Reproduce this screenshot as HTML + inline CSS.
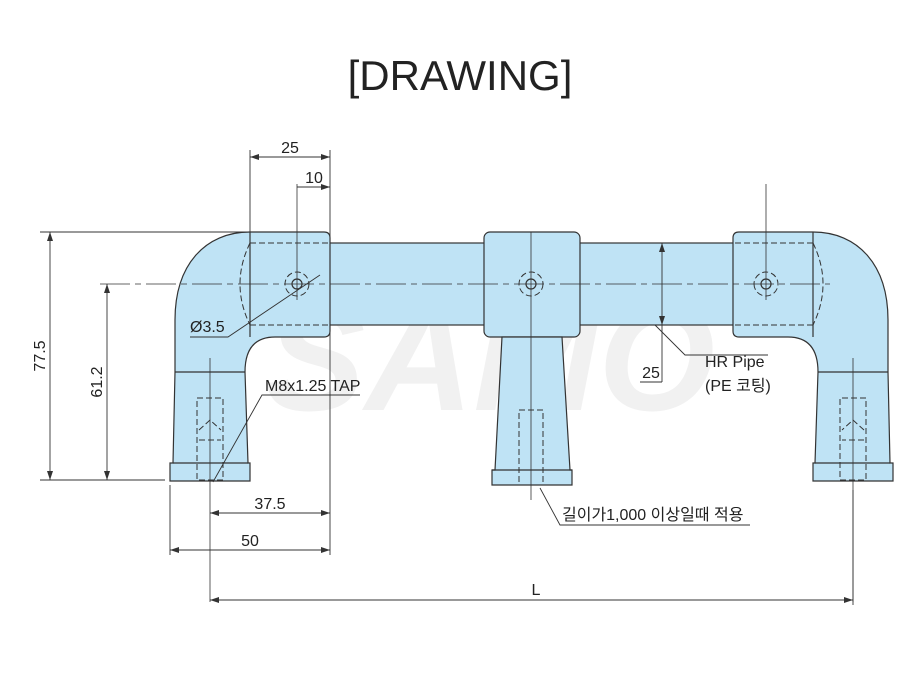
<!DOCTYPE html>
<html><head><meta charset="utf-8"><style>
html,body{margin:0;padding:0;background:#fff;}
svg{display:block;}
text{font-family:"Liberation Sans","Noto Sans CJK KR",sans-serif;fill:#222;}
</style></head><body>
<svg width="921" height="700" viewBox="0 0 921 700" xmlns="http://www.w3.org/2000/svg">
<text x="460" y="90" font-size="42" text-anchor="middle">[DRAWING]</text>
<text x="490" y="410" font-size="150" font-style="italic" font-weight="bold" text-anchor="middle" style="fill:#f1f1f1">SAMO</text>
<g stroke="#333" stroke-width="1.2" fill="#bfe3f5">
<rect x="320" y="243" width="425" height="82"/>
<g id="el">
<path d="M250 232 L324 232 Q330 232 330 238 L330 331 Q330 337 324 337 L275 337 Q245 337 245 372 L248 463 L250 463 L250 481 L170 481 L170 463 L173 463 L175 372 L175 320 C175 265 205 232 250 232 Z"/>
<line x1="175" y1="372" x2="245" y2="372"/>
<line x1="250" y1="232" x2="250" y2="337" />
<line x1="173" y1="463" x2="248" y2="463"/>
<g fill="none" stroke-dasharray="6,3" stroke-width="1">
<path d="M250 243 L330 243 M250 325 L330 325"/>
<path d="M250 243 Q230 284 250 325"/>
<circle cx="297" cy="284" r="12"/>
<rect x="197" y="398" width="26" height="82"/>
<path d="M199 430 L210 420 L221 430 M199 440 L221 440"/>
</g>
<circle cx="297" cy="284" r="5" fill="none"/>
<line x1="297" y1="184" x2="297" y2="300" stroke-width="0.8"/>
<line x1="210" y1="358" x2="210" y2="602" stroke-width="0.8"/>
</g>
<use href="#el" transform="translate(1063,0) scale(-1,1)"/>
<rect x="484" y="232" width="96" height="105" rx="6"/>
<path d="M502 337 L562 337 L570 470 L572 470 L572 485 L492 485 L492 470 L495 470 Z"/>
<line x1="492" y1="470" x2="572" y2="470"/>
<g fill="none" stroke-dasharray="6,3" stroke-width="1">
<circle cx="531" cy="284" r="12"/>
<rect x="519" y="410" width="24" height="75"/>
</g>
<circle cx="531" cy="284" r="5" fill="none"/>
<line x1="531" y1="232" x2="531" y2="500" stroke-width="0.8"/>
</g>
<line x1="100" y1="284" x2="830" y2="284" stroke="#333" stroke-width="0.8" stroke-dasharray="30,5,6,5"/>
<g stroke="#333" stroke-width="0.9" fill="none">
<line x1="40" y1="232" x2="250" y2="232"/>
<line x1="40" y1="480" x2="165" y2="480"/>
<line x1="50" y1="232" x2="50" y2="480"/>
<line x1="107" y1="284" x2="107" y2="480"/>
<line x1="250" y1="150" x2="250" y2="232"/>
<line x1="330" y1="150" x2="330" y2="555"/>
<line x1="250" y1="157" x2="330" y2="157"/>
<line x1="297" y1="187" x2="330" y2="187"/>
<line x1="170" y1="485" x2="170" y2="555"/>
<line x1="210" y1="513" x2="330" y2="513"/>
<line x1="170" y1="550" x2="330" y2="550"/>
<line x1="853" y1="490" x2="853" y2="605"/>
<line x1="210" y1="600" x2="853" y2="600"/>
<line x1="662" y1="243" x2="662" y2="382"/>
<line x1="640" y1="382" x2="662" y2="382"/>
<path d="M190 337 L228 337 L320 275"/>
<path d="M213 482 L262 395 L360 395"/>
<path d="M655 325 L685 355 L768 355"/>
<path d="M540 488 L560 525 L750 525"/>
</g>
<g fill="#333">
<path d="M50 232 l-3 9 h6z M50 480 l-3 -9 h6z M107 284 l-3 9 h6z M107 480 l-3 -9 h6z"/>
<path d="M250 157 l9 -3 v6z M330 157 l-9 -3 v6z M330 187 l-9 -3 v6z"/>
<path d="M210 513 l9 -3 v6z M330 513 l-9 -3 v6z M170 550 l9 -3 v6z M330 550 l-9 -3 v6z"/>
<path d="M210 600 l9 -3 v6z M853 600 l-9 -3 v6z M662 243 l-3 9 h6z M662 325 l-3 -9 h6z"/>
</g>
<g font-size="16">
<text x="290" y="153" text-anchor="middle">25</text>
<text x="314" y="183" text-anchor="middle">10</text>
<text x="190" y="332">Ø3.5</text>
<text x="265" y="391">M8x1.25 TAP</text>
<text x="270" y="509" text-anchor="middle">37.5</text>
<text x="250" y="546" text-anchor="middle">50</text>
<text x="536" y="595" text-anchor="middle">L</text>
<text x="651" y="378" text-anchor="middle">25</text>
<text x="705" y="367">HR Pipe</text>
<text x="705" y="391">(PE 코팅)</text>
<text x="562" y="520">길이가1,000 이상일때 적용</text>
<text transform="translate(45,356) rotate(-90)" text-anchor="middle">77.5</text>
<text transform="translate(102,382) rotate(-90)" text-anchor="middle">61.2</text>
</g>
</svg>
</body></html>
